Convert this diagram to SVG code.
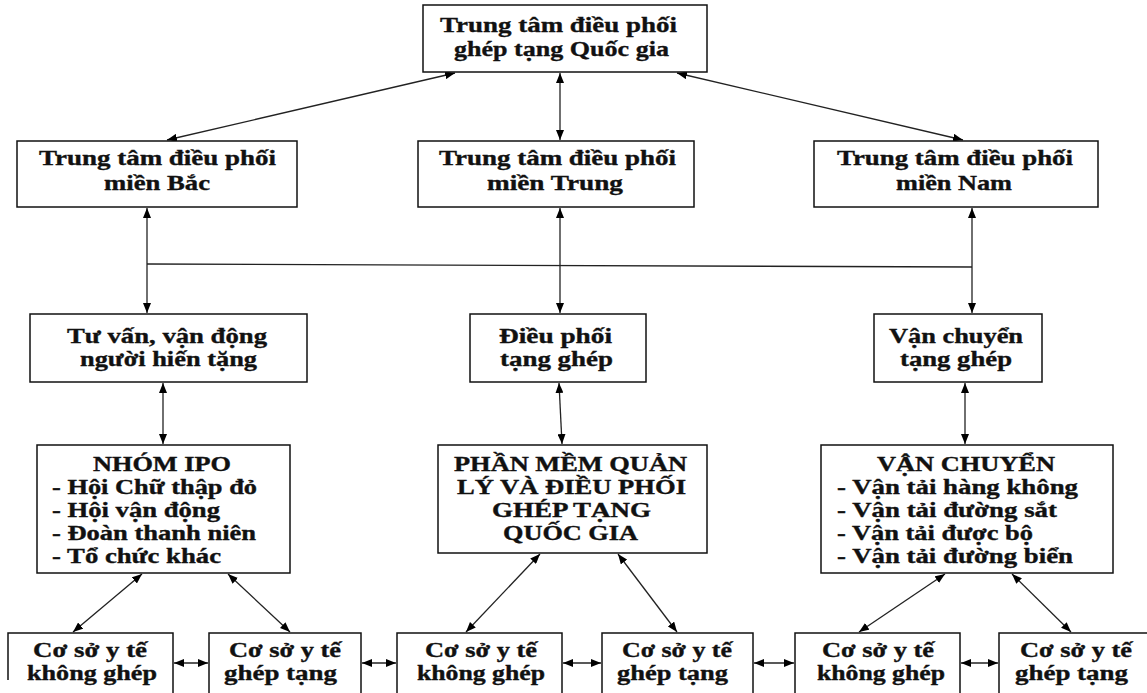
<svg xmlns="http://www.w3.org/2000/svg" width="1147" height="693" viewBox="0 0 1147 693">
<defs>
<marker id="ah" viewBox="0 0 10 8" refX="10" refY="4" markerWidth="10" markerHeight="8" markerUnits="userSpaceOnUse" orient="auto-start-reverse">
<path d="M0,0 L10,4 L0,8 z" fill="#000"/>
</marker>
<style>
.box{fill:#fff;stroke:#111;stroke-width:1.5}
.t{font-family:"Liberation Serif","Times New Roman",serif;font-weight:bold;fill:#111;stroke:#111;stroke-width:0.35}
.f22{font-size:22px}.f21{font-size:21px}.f20{font-size:20px}
.c{fill:none;stroke:#222;stroke-width:1.3}
.a{marker-start:url(#ah);marker-end:url(#ah)}
</style>
</defs>
<rect width="1147" height="693" fill="#fff"/>
<g id="connectors">
<line class="c a" x1="455" y1="73" x2="167" y2="140"/>
<line class="c a" x1="560" y1="73" x2="560" y2="140"/>
<line class="c a" x1="677" y1="73" x2="963" y2="140"/>
<line class="c a" x1="147" y1="208" x2="147" y2="313"/>
<line class="c a" x1="560" y1="208" x2="560" y2="313"/>
<line class="c a" x1="972" y1="208" x2="972" y2="313"/>
<line class="c" x1="147" y1="264" x2="972" y2="267"/>
<line class="c a" x1="163" y1="383" x2="163" y2="444"/>
<line class="c a" x1="559" y1="383" x2="562" y2="444"/>
<line class="c a" x1="965" y1="383" x2="965" y2="444"/>
<line class="c a" x1="142" y1="574" x2="73" y2="632"/>
<line class="c a" x1="228" y1="574" x2="290" y2="632"/>
<line class="c a" x1="540" y1="554" x2="466" y2="632"/>
<line class="c a" x1="618" y1="554" x2="677" y2="632"/>
<line class="c a" x1="945" y1="574" x2="859" y2="632"/>
<line class="c a" x1="1012" y1="574" x2="1071" y2="632"/>
<line class="c a" x1="174" y1="663" x2="208" y2="663"/>
<line class="c a" x1="362" y1="663" x2="396" y2="663"/>
<line class="c a" x1="563" y1="663" x2="601" y2="663"/>
<line class="c a" x1="754" y1="663" x2="794" y2="663"/>
<line class="c a" x1="961" y1="663" x2="998" y2="663"/>
</g>
<g id="n-quocgia">
<rect class="box" x="423" y="5" width="284" height="67"/>
<text class="t f22" x="440" y="32" textLength="237" lengthAdjust="spacingAndGlyphs">Trung tâm điều phối</text>
<text class="t f22" x="454" y="56" textLength="215" lengthAdjust="spacingAndGlyphs">ghép tạng Quốc gia</text>
</g>
<g id="n-bac">
<rect class="box" x="17" y="141" width="280" height="66"/>
<text class="t f21" x="39" y="165" textLength="237" lengthAdjust="spacingAndGlyphs">Trung tâm điều phối</text>
<text class="t f21" x="104" y="190" textLength="106" lengthAdjust="spacingAndGlyphs">miền Bắc</text>
</g>
<g id="n-trung">
<rect class="box" x="418" y="141" width="276" height="66"/>
<text class="t f21" x="439" y="165" textLength="237" lengthAdjust="spacingAndGlyphs">Trung tâm điều phối</text>
<text class="t f21" x="487" y="190" textLength="136" lengthAdjust="spacingAndGlyphs">miền Trung</text>
</g>
<g id="n-nam">
<rect class="box" x="814" y="141" width="284" height="66"/>
<text class="t f21" x="837" y="165" textLength="236" lengthAdjust="spacingAndGlyphs">Trung tâm điều phối</text>
<text class="t f21" x="896" y="190" textLength="116" lengthAdjust="spacingAndGlyphs">miền Nam</text>
</g>
<g id="n-tuvan">
<rect class="box" x="30" y="314" width="277" height="68"/>
<text class="t f21" x="67" y="343" textLength="200" lengthAdjust="spacingAndGlyphs">Tư vấn, vận động</text>
<text class="t f21" x="80" y="366" textLength="177" lengthAdjust="spacingAndGlyphs">người hiến tặng</text>
</g>
<g id="n-dieuphoi">
<rect class="box" x="470" y="314" width="176" height="68"/>
<text class="t f21" x="499" y="343" textLength="113" lengthAdjust="spacingAndGlyphs">Điều phối</text>
<text class="t f21" x="500" y="366" textLength="113" lengthAdjust="spacingAndGlyphs">tạng ghép</text>
</g>
<g id="n-vanchuyen">
<rect class="box" x="874" y="314" width="168" height="68"/>
<text class="t f21" x="889" y="343" textLength="134" lengthAdjust="spacingAndGlyphs">Vận chuyển</text>
<text class="t f21" x="900" y="366" textLength="112" lengthAdjust="spacingAndGlyphs">tạng ghép</text>
</g>
<g id="n-ipo">
<rect class="box" x="37" y="445" width="253" height="128"/>
<text class="t f20" x="93" y="471" textLength="138" lengthAdjust="spacingAndGlyphs">NHÓM IPO</text>
<text class="t f20" x="52" y="494" textLength="205" lengthAdjust="spacingAndGlyphs">- Hội Chữ thập đỏ</text>
<text class="t f20" x="52" y="517" textLength="168" lengthAdjust="spacingAndGlyphs">- Hội vận động</text>
<text class="t f20" x="52" y="540" textLength="204" lengthAdjust="spacingAndGlyphs">- Đoàn thanh niên</text>
<text class="t f20" x="52" y="563" textLength="169" lengthAdjust="spacingAndGlyphs">- Tổ chức khác</text>
</g>
<g id="n-phanmem">
<rect class="box" x="438" y="445" width="269" height="108"/>
<text class="t f20" x="454" y="471" textLength="233" lengthAdjust="spacingAndGlyphs">PHẦN MỀM QUẢN</text>
<text class="t f20" x="457" y="494" textLength="229" lengthAdjust="spacingAndGlyphs">LÝ VÀ ĐIỀU PHỐI</text>
<text class="t f20" x="492" y="517" textLength="159" lengthAdjust="spacingAndGlyphs">GHÉP TẠNG</text>
<text class="t f20" x="503" y="540" textLength="135" lengthAdjust="spacingAndGlyphs">QUỐC GIA</text>
</g>
<g id="n-vantai">
<rect class="box" x="821" y="445" width="292" height="128"/>
<text class="t f20" x="877" y="471" textLength="178" lengthAdjust="spacingAndGlyphs">VẬN CHUYỂN</text>
<text class="t f20" x="837" y="494" textLength="241" lengthAdjust="spacingAndGlyphs">- Vận tải hàng không</text>
<text class="t f20" x="837" y="517" textLength="220" lengthAdjust="spacingAndGlyphs">- Vận tải đường sắt</text>
<text class="t f20" x="837" y="540" textLength="196" lengthAdjust="spacingAndGlyphs">- Vận tải được bộ</text>
<text class="t f20" x="837" y="563" textLength="236" lengthAdjust="spacingAndGlyphs">- Vận tải đường biển</text>
</g>
<g id="n-b1">
<path class="box" d="M8,680 V633 H173 V700"/>
<text class="t f20" x="33" y="657" textLength="114" lengthAdjust="spacingAndGlyphs">Cơ sở y tế</text>
<text class="t f20" x="27" y="680" textLength="130" lengthAdjust="spacingAndGlyphs">không ghép</text>
</g>
<g id="n-b2">
<rect class="box" x="209" y="633" width="152" height="80"/>
<text class="t f20" x="229" y="657" textLength="112" lengthAdjust="spacingAndGlyphs">Cơ sở y tế</text>
<text class="t f20" x="224" y="680" textLength="113" lengthAdjust="spacingAndGlyphs">ghép tạng</text>
</g>
<g id="n-b3">
<rect class="box" x="397" y="633" width="165" height="80"/>
<text class="t f20" x="425" y="657" textLength="112" lengthAdjust="spacingAndGlyphs">Cơ sở y tế</text>
<text class="t f20" x="417" y="680" textLength="128" lengthAdjust="spacingAndGlyphs">không ghép</text>
</g>
<g id="n-b4">
<rect class="box" x="602" y="633" width="151" height="80"/>
<text class="t f20" x="622" y="657" textLength="110" lengthAdjust="spacingAndGlyphs">Cơ sở y tế</text>
<text class="t f20" x="617" y="680" textLength="111" lengthAdjust="spacingAndGlyphs">ghép tạng</text>
</g>
<g id="n-b5">
<rect class="box" x="795" y="633" width="165" height="80"/>
<text class="t f20" x="822" y="657" textLength="112" lengthAdjust="spacingAndGlyphs">Cơ sở y tế</text>
<text class="t f20" x="817" y="680" textLength="128" lengthAdjust="spacingAndGlyphs">không ghép</text>
</g>
<g id="n-b6">
<rect class="box" x="999" y="633" width="160" height="80"/>
<text class="t f20" x="1020" y="657" textLength="112" lengthAdjust="spacingAndGlyphs">Cơ sở y tế</text>
<text class="t f20" x="1015" y="680" textLength="113" lengthAdjust="spacingAndGlyphs">ghép tạng</text>
</g>
</svg>
